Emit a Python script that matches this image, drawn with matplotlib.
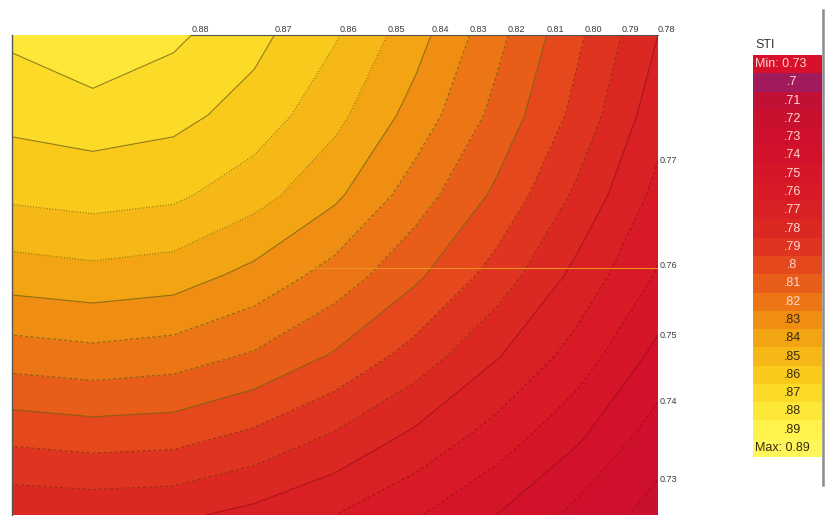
import numpy as np
import matplotlib
matplotlib.use("Agg")
import matplotlib.pyplot as plt
from matplotlib.colors import ListedColormap, BoundaryNorm
from matplotlib.lines import Line2D

plt.rcParams['font.family'] = ['Liberation Sans Narrow', 'Liberation Sans', 'DejaVu Sans']

# STI values on the measurement grid (rows top -> bottom, columns left -> right)
cols = np.arange(9)
rows = np.arange(7)
sti = np.array([
    [0.882, 0.890, 0.882, 0.873, 0.861, 0.844, 0.823, 0.802, 0.780],
    [0.873, 0.875, 0.873, 0.866, 0.853, 0.836, 0.817, 0.797, 0.774],
    [0.862, 0.864, 0.862, 0.854, 0.842, 0.825, 0.808, 0.788, 0.767],
    [0.845, 0.847, 0.845, 0.837, 0.826, 0.812, 0.796, 0.777, 0.759],
    [0.825, 0.827, 0.825, 0.819, 0.809, 0.796, 0.781, 0.766, 0.747],
    [0.803, 0.805, 0.804, 0.798, 0.789, 0.778, 0.766, 0.752, 0.735],
    [0.782, 0.783, 0.782, 0.777, 0.770, 0.761, 0.750, 0.737, 0.726],
])

# legend classes .70 ... .89
band_levels = [0.70, 0.71, 0.72, 0.73, 0.74, 0.75, 0.76, 0.77, 0.78, 0.79,
               0.80, 0.81, 0.82, 0.83, 0.84, 0.85, 0.86, 0.87, 0.88, 0.89]
band_colors = ['#a01a5c', '#c20f34', '#c9102f', '#cf102c', '#d2122a', '#d51528',
               '#d71a26', '#d92024', '#dc2822', '#df341f', '#e4481c', '#e85e18',
               '#ec7616', '#f08e14', '#f3a412', '#f6b816', '#f9c91c', '#fbda28',
               '#fde838', '#fff24c']
min_color = '#d8102c'
max_color = '#fff65a'

line_levels = [0.73, 0.74, 0.75, 0.76, 0.77, 0.78, 0.79, 0.80,
               0.81, 0.82, 0.83, 0.84, 0.85, 0.86, 0.87, 0.88]
top_labels = [0.88, 0.87, 0.86, 0.85, 0.84, 0.83, 0.82, 0.81, 0.80, 0.79, 0.78]
right_labels = [0.77, 0.76, 0.75, 0.74, 0.73]

W, H = 839, 516
fig = plt.figure(figsize=(W / 100, H / 100), dpi=100)
ax = fig.add_axes([12 / W, 1 - 515 / H, 646 / W, 480 / H])

bounds = band_levels + [0.90]
cmap = ListedColormap(band_colors)
norm = BoundaryNorm(bounds, cmap.N)
ax.contourf(cols, rows, sti, levels=bounds, cmap=cmap, norm=norm)

styles = {0.88: '-', 0.87: '-', 0.86: (0, (1, 1.5)), 0.85: (0, (1, 1.5)),
          0.84: '-', 0.81: '-', 0.78: '-', 0.75: '-'}
lstyles = [styles.get(lv, (0, (3, 2))) for lv in line_levels]
lcolors = ['#6e5a14' if lv >= 0.81 else ('#8a2a12' if lv >= 0.79 else '#9a0c1c')
           for lv in line_levels]
ax.contour(cols, rows, sti, levels=line_levels, colors=lcolors,
           linestyles=lstyles, linewidths=0.8, alpha=0.75)

ax.set_xlim(0, 8)
ax.set_ylim(6, 0)
ax.axis('off')

# edge crossings of the contour lines for the labels
top_vals = sti[0, 1:][::-1]
top_x = cols[1:][::-1]
x88 = np.interp(top_labels[0], top_vals, top_x)
ax.plot([x88, 8], [0, 0], color='#555555', lw=0.8, clip_on=False)
ax.plot([0, 0], [0, 6], color='#555555', lw=1.0, clip_on=False)
for lv in top_labels:
    x = np.interp(lv, top_vals, top_x)
    ax.annotate(f"{lv:.2f}", (x, 0), xytext=(0, 0.5), textcoords='offset points',
                ha='left', va='bottom', fontsize=6.5, color='#3a3a3a')

right_vals = sti[:, -1][::-1]
right_y = rows[::-1]
for lv in right_labels:
    y = np.interp(lv, right_vals, right_y)
    ax.annotate(f"{lv:.2f}", (8, y), xytext=(1, 0), textcoords='offset points',
                ha='left', va='center', fontsize=6.5, color='#3a3a3a',
                annotation_clip=False)

# faint orange scan line across the right part
ax.plot([3.4, 8], [2.91, 2.91], color='#f0901e', lw=0.8)

# legend panel
lab = [f"Min: {sti.min():.2f}"] + [f"{v:.2f}".lstrip('0').rstrip('0') for v in band_levels] \
      + [f"Max: {sti.max():.2f}"]
lab_colors = [min_color] + band_colors + [max_color]
n = len(lab)
lg = fig.add_axes([753 / W, 1 - 457 / H, 69 / W, 402 / H])
lg.barh(np.arange(n), [1] * n, height=1.0, left=0, color=lab_colors)
lg.set_xlim(0, 1)
lg.set_ylim(n - 0.5, -0.5)
lg.axis('off')
for i, (t, c) in enumerate(zip(lab, lab_colors)):
    dark = i >= 14
    tc = '#3a2a0a' if dark else '#ffd6d0'
    if t.startswith('M'):
        lg.text(0.03, i, t, ha='left', va='center', fontsize=9, color=tc)
    else:
        lg.text(0.57, i, t, ha='center', va='center', fontsize=9, color=tc)

fig.text(755 / W, 1 - 45 / H, "STI", ha='left', va='center', fontsize=9, color='#333333')
fig.add_artist(Line2D([823 / W, 823 / W], [1 - 10 / H, 1 - 485 / H],
                      color='#8c8c8c', lw=1.8))

fig.savefig("out.png", dpi=100)
